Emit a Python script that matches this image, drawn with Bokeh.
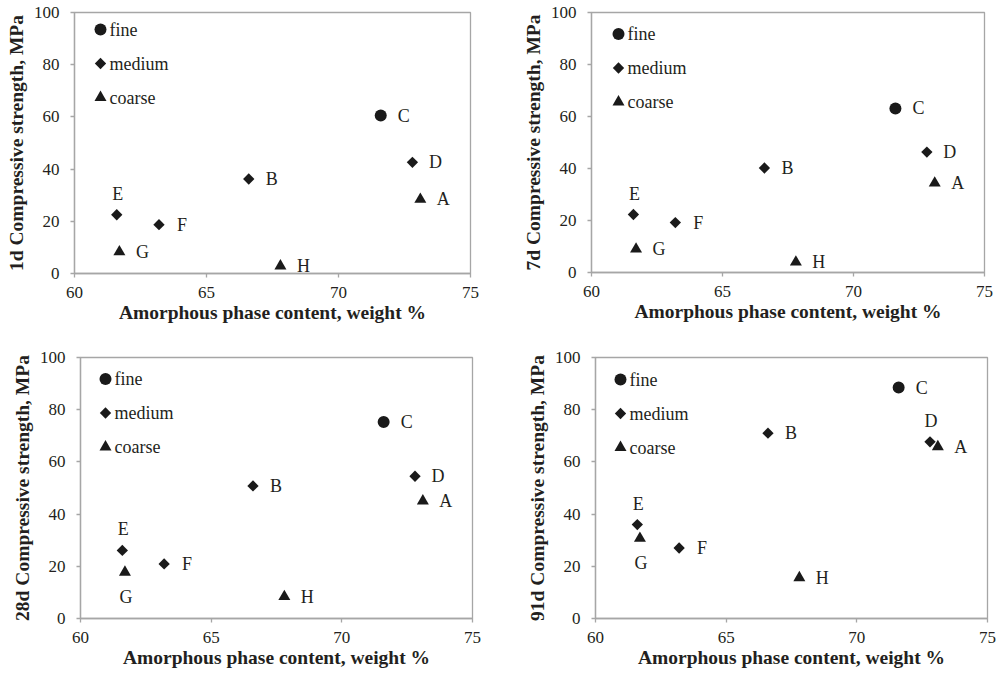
import math
from bokeh.plotting import figure
from bokeh.models import (Range1d, FixedTicker, ColumnDataSource)
from bokeh.layouts import column, row
from bokeh.embed import file_html
from bokeh.resources import INLINE

# ---------------- data ----------------
samples = ["A", "B", "C", "D", "E", "F", "G", "H"]
fineness = ["coarse", "medium", "fine", "medium", "medium", "medium", "coarse", "coarse"]
amorphous = [73.1, 66.6, 71.6, 72.8, 61.6, 63.2, 61.7, 67.8]

strength_1d = [28.4, 36.2, 60.5, 42.6, 22.5, 18.7, 8.3, 2.9]
strength_7d = [34.4, 40.2, 63.1, 46.3, 22.3, 19.2, 9.0, 4.0]
strength_28d = [45.0, 50.8, 75.3, 54.5, 26.1, 20.9, 17.7, 8.4]
strength_91d = [65.8, 71.0, 88.5, 67.7, 36.0, 27.0, 30.7, 15.6]

ages = ["1d", "7d", "28d", "91d"]
x_ticks = [60, 65, 70, 75]
y_ticks = [0, 20, 40, 60, 80, 100]
legend_order = ["fine", "medium", "coarse"]

# label placement (style) per panel, in sample order A..H
placement = {
    "1d":  ["right", "right", "right", "right", "above", "right", "right", "right"],
    "7d":  ["right", "right", "right", "right", "above", "right", "right", "right"],
    "28d": ["right", "right", "right", "right", "above", "right", "below", "right"],
    "91d": ["right", "right", "right", "above", "above", "right", "below", "right"],
}

# ---------------- styles ----------------
SERIF = "Liberation Serif"
TEXT = "#231f20"
FRAME = "#a6a6a6"
MARK = "#1a1a1a"
marker_style = {
    "fine": dict(marker="circle", size=12),
    "medium": dict(marker="square", size=8, angle=math.pi / 4),
    "coarse": dict(marker="triangle", size=12),
}
offsets = {"right": (23, 0), "above": (1, -21), "below": (1, 25)}

# panel geometry: (border_left, frame_w, border_right, top, frame_h, bottom)
geom = {
    "1d":  (74, 396, 30, 12, 261, 67),
    "7d":  (91, 393, 13, 9, 260, 71),
    "28d": (80, 392, 28, 17, 261, 56),
    "91d": (95, 392, 10, 17, 261, 56),
}
# key (legend) placement in pixels from the frame's top-left corner: (dx, first row dy)
key_place = {"1d": (26, 17), "7d": (27, 21.5), "28d": (25, 21.5), "91d": (25, 22)}
KEY_ROW = 34


def make_panel(age, values):
    bl, fw, br, bt, fh, bb = geom[age]
    xr = Range1d(60, 75)
    yr = Range1d(0, 100)
    p = figure(frame_width=fw, frame_height=fh,
               min_border_left=bl, min_border_right=br,
               min_border_top=bt, min_border_bottom=bb,
               x_range=xr, y_range=yr,
               output_backend="svg", toolbar_location=None,
               background_fill_color="white", border_fill_color="white")
    p.grid.visible = False
    p.outline_line_color = FRAME
    p.outline_line_width = 1.3

    for ax in (p.xaxis[0], p.yaxis[0]):
        ax.axis_line_color = FRAME
        ax.axis_line_width = 1.3
        ax.major_tick_line_color = FRAME
        ax.major_tick_line_width = 1.3
        ax.major_tick_out = 4
        ax.major_tick_in = 0
        ax.minor_tick_line_color = None
        ax.major_label_text_font = SERIF
        ax.major_label_text_font_size = "17px"
        ax.major_label_text_color = TEXT
        ax.axis_label_text_font = SERIF
        ax.axis_label_text_font_size = "19.5px"
        ax.axis_label_text_font_style = "bold"
        ax.axis_label_text_color = TEXT

    p.xaxis.ticker = FixedTicker(ticks=x_ticks)
    p.yaxis.ticker = FixedTicker(ticks=y_ticks)
    p.xaxis.axis_label = "Amorphous phase content, weight %"
    p.yaxis.axis_label = f"{age} Compressive strength, MPa"
    p.xaxis.major_label_standoff = 9
    p.xaxis.axis_label_standoff = 1
    p.yaxis.major_label_standoff = 11
    p.yaxis.axis_label_standoff = 4

    for grp in legend_order:
        idx = [i for i, f in enumerate(fineness) if f == grp]
        src = ColumnDataSource(dict(x=[amorphous[i] for i in idx],
                                    y=[values[i] for i in idx]))
        p.scatter("x", "y", source=src, color=MARK, line_width=0,
                  **marker_style[grp])

    dx = [offsets[s][0] for s in placement[age]]
    dy = [offsets[s][1] for s in placement[age]]
    lsrc = ColumnDataSource(dict(x=amorphous, y=values, t=samples, dx=dx, dy=dy))
    p.text("x", "y", text="t", source=lsrc, x_offset="dx", y_offset="dy",
           text_align="center", text_baseline="middle",
           text_font={"value": SERIF}, text_font_size="18px", text_color=TEXT)

    # key: symbols placed at fixed pixel distances from the frame's top-left corner
    kx, ky = key_place[age]
    sx = (xr.end - xr.start) / fw
    sy = (yr.end - yr.start) / fh
    for i, grp in enumerate(legend_order):
        x_k = xr.start + kx * sx
        y_k = yr.end - (ky + i * KEY_ROW) * sy
        p.scatter([x_k], [y_k], color=MARK, line_width=0, **marker_style[grp])
        p.text([x_k], [y_k], text=[grp], x_offset=9, text_align="left",
               text_baseline="middle", text_font={"value": SERIF},
               text_font_size="18px", text_color=TEXT)
    return p


panels = [make_panel(a, v) for a, v in zip(ages, [strength_1d, strength_7d,
                                                   strength_28d, strength_91d])]
layout = column(row(panels[0], panels[1]), row(panels[2], panels[3]))

open("out.html", "w").write(file_html(layout, INLINE))
